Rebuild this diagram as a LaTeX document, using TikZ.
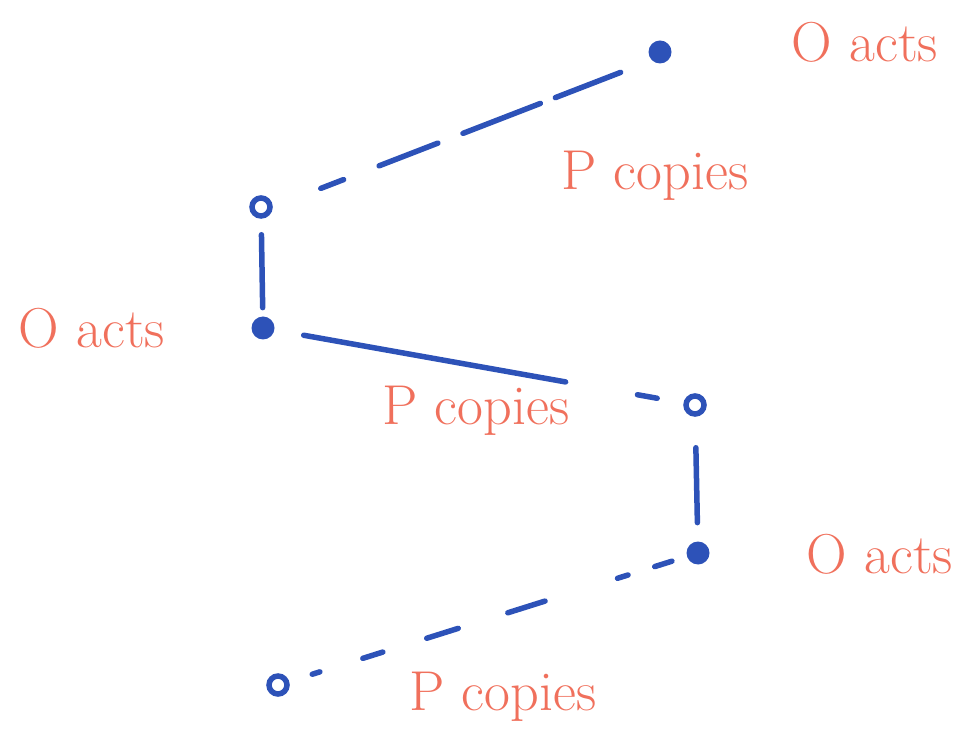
\documentclass[tikz,border=0pt]{standalone}
\usepackage{xcolor}
\usepackage{tikz}
\usetikzlibrary{positioning}
\definecolor{penblue}{HTML}{2D52B8}
\definecolor{penred}{HTML}{F0705C}
\tikzset{
  fulldot/.style={circle, fill=penblue, inner sep=0pt, minimum size=4.6mm},
  opendot/.style={circle, draw=penblue, line width=1.1mm, inner sep=0pt, minimum size=3.6mm},
  pen/.style={draw=penblue, line width=1.1mm, line cap=round},
  note/.style={text=penred, font=\fontsize{32}{38}\selectfont, anchor=base, inner sep=0pt}
}

\begin{document}
\begin{tikzpicture}[x=0.2mm, y=-0.2mm]
  \useasboundingbox (0,0) rectangle (963,729);
  % points
  \node[fulldot] (top) at (660,52) {};
  \node[opendot] (upper) at (261,207) {};
  \node[fulldot] (left) at (263,328) {};
  \node[opendot] (mid) at (695,405) {};
  \node[fulldot] (right) at (698,553) {};
  \node[opendot] (low) at (278,685) {};
  % strokes
  \draw[pen, shorten <=10.3mm,
        dash pattern=on 4.9mm off 7.6mm on 12.6mm off 5.4mm on 16.6mm off 3.2mm on 14mm off 20mm]
        (upper.east) -- (top.south west);
  \draw[pen, shorten <=3.2mm, shorten >=1.7mm] (upper) -- (left);
  \draw[pen, shorten <=5.9mm,
        dash pattern=on 53.2mm off 14.6mm on 4mm off 20mm] (left) -- (mid);
  \draw[pen, shorten <=6.2mm, shorten >=3.7mm] (mid) -- (right);
  \draw[pen, shorten <=3.1mm,
        dash pattern=on 3.6mm off 5.6mm on 2.2mm off 15.2mm on 7.8mm off 10.4mm on 6.6mm off 9.2mm on 4.2mm off 9mm on 1.6mm off 20mm]
        (right) -- (low);
  % labels
  \node[note] (actsTop) at (865,62) {O acts};
  \node[note] (copiesTop) at (655,190) {P copies};
  \node[note] (actsLeft) at (92,348) {O acts};
  \node[note] (copiesMid) at (476,425) {P copies};
  \node[note] (actsRight) at (880,573) {O acts};
  \node[note] (copiesLow) at (503,710) {P copies};
\end{tikzpicture}
\end{document}
